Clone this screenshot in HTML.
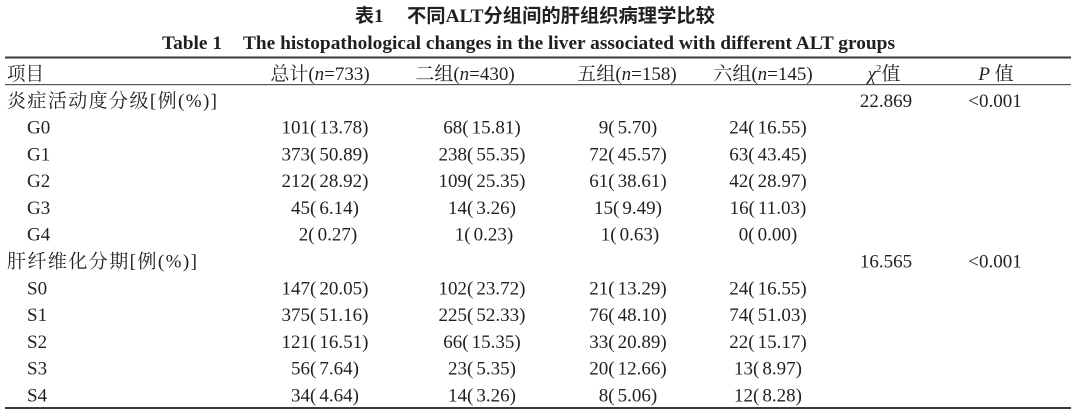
<!DOCTYPE html>
<html>
<head>
<meta charset="utf-8">
<style>
  html,body{margin:0;padding:0;background:#fff;}
  body{width:1080px;height:420px;overflow:hidden;}
  svg{display:block;}
  .t{font-family:"Liberation Serif","Noto Serif CJK SC",serif;font-size:19px;fill:#231f20;}
  .c{font-family:"Liberation Serif","Noto Serif CJK SC",serif;font-size:19px;fill:#231f20;}
  .h{font-family:"Liberation Sans","Noto Sans CJK SC",sans-serif;font-size:19px;font-weight:bold;fill:#231f20;}
  .b{font-family:"Liberation Serif",serif;font-size:19px;font-weight:bold;fill:#231f20;}
</style>
</head>
<body>
<svg width="1080" height="420" viewBox="0 0 1080 420" xmlns="http://www.w3.org/2000/svg">
  <!-- Titles -->
  <text class="h" x="355" y="22">表<tspan font-family="Liberation Serif" font-weight="bold">1</tspan></text>
  <text class="h" x="407" y="22" textLength="308" lengthAdjust="spacingAndGlyphs">不同<tspan font-family="Liberation Serif" font-weight="bold">ALT</tspan>分组间的肝组织病理学比较</text>
  <text class="b" x="162" y="49" textLength="60" lengthAdjust="spacingAndGlyphs">Table 1</text>
  <text class="b" x="243" y="49" textLength="652" lengthAdjust="spacingAndGlyphs">The histopathological changes in the liver associated with different ALT groups</text>

  <!-- Rules -->
  <rect x="5" y="56.5" width="1066" height="2" fill="#3a3a3a"/>
  <rect x="5" y="84" width="1066" height="1.2" fill="#555"/>
  <rect x="5" y="407" width="1066" height="2" fill="#3a3a3a"/>

  <!-- Header -->
  <text class="c" x="7" y="80" textLength="37" lengthAdjust="spacingAndGlyphs">项目</text>
  <text class="t" x="320" y="80" text-anchor="middle">总计(<tspan font-style="italic">n</tspan>=733)</text>
  <text class="t" x="465" y="80" text-anchor="middle">二组(<tspan font-style="italic">n</tspan>=430)</text>
  <text class="t" x="627" y="80" text-anchor="middle">五组(<tspan font-style="italic">n</tspan>=158)</text>
  <text class="t" x="763" y="80" text-anchor="middle">六组(<tspan font-style="italic">n</tspan>=145)</text>
  <text class="t" x="884" y="80" text-anchor="middle"><tspan font-style="italic">χ</tspan><tspan font-size="11" dy="-8">2</tspan><tspan dy="8">值</tspan></text>
  <text class="t" x="996" y="80" text-anchor="middle"><tspan font-style="italic">P</tspan> 值</text>

  <!-- Section 1 -->
  <text class="c" x="7" y="107" textLength="210" lengthAdjust="spacing">炎症活动度分级[例(%)]</text>
  <text class="t" x="886" y="107" text-anchor="middle">22.869</text>
  <text class="t" x="995" y="107" text-anchor="middle">&lt;0.001</text>

  <g class="t">
    <text x="27" y="133.5">G0</text>
    <text x="325" y="133.5" text-anchor="middle">101(<tspan dx="3">13.78)</tspan></text>
    <text x="482" y="133.5" text-anchor="middle">68(<tspan dx="3">15.81)</tspan></text>
    <text x="628" y="133.5" text-anchor="middle">9(<tspan dx="3">5.70)</tspan></text>
    <text x="768" y="133.5" text-anchor="middle">24(<tspan dx="3">16.55)</tspan></text>

    <text x="27" y="160.3">G1</text>
    <text x="325" y="160.3" text-anchor="middle">373(<tspan dx="3">50.89)</tspan></text>
    <text x="482" y="160.3" text-anchor="middle">238(<tspan dx="3">55.35)</tspan></text>
    <text x="628" y="160.3" text-anchor="middle">72(<tspan dx="3">45.57)</tspan></text>
    <text x="768" y="160.3" text-anchor="middle">63(<tspan dx="3">43.45)</tspan></text>

    <text x="27" y="187.1">G2</text>
    <text x="325" y="187.1" text-anchor="middle">212(<tspan dx="3">28.92)</tspan></text>
    <text x="482" y="187.1" text-anchor="middle">109(<tspan dx="3">25.35)</tspan></text>
    <text x="628" y="187.1" text-anchor="middle">61(<tspan dx="3">38.61)</tspan></text>
    <text x="768" y="187.1" text-anchor="middle">42(<tspan dx="3">28.97)</tspan></text>

    <text x="27" y="213.9">G3</text>
    <text x="325" y="213.9" text-anchor="middle">45(<tspan dx="3">6.14)</tspan></text>
    <text x="482" y="213.9" text-anchor="middle">14(<tspan dx="3">3.26)</tspan></text>
    <text x="628" y="213.9" text-anchor="middle">15(<tspan dx="3">9.49)</tspan></text>
    <text x="768" y="213.9" text-anchor="middle">16(<tspan dx="3">11.03)</tspan></text>

    <text x="27" y="240.7">G4</text>
    <text x="328" y="240.7" text-anchor="middle">2(<tspan dx="3">0.27)</tspan></text>
    <text x="484" y="240.7" text-anchor="middle">1(<tspan dx="3">0.23)</tspan></text>
    <text x="630" y="240.7" text-anchor="middle">1(<tspan dx="3">0.63)</tspan></text>
    <text x="768" y="240.7" text-anchor="middle">0(<tspan dx="3">0.00)</tspan></text>
  </g>

  <!-- Section 2 -->
  <text class="c" x="7" y="267.5" textLength="190" lengthAdjust="spacing">肝纤维化分期[例(%)]</text>
  <text class="t" x="886" y="267.5" text-anchor="middle">16.565</text>
  <text class="t" x="995" y="267.5" text-anchor="middle">&lt;0.001</text>

  <g class="t">
    <text x="27" y="294.3">S0</text>
    <text x="325" y="294.3" text-anchor="middle">147(<tspan dx="3">20.05)</tspan></text>
    <text x="482" y="294.3" text-anchor="middle">102(<tspan dx="3">23.72)</tspan></text>
    <text x="628" y="294.3" text-anchor="middle">21(<tspan dx="3">13.29)</tspan></text>
    <text x="768" y="294.3" text-anchor="middle">24(<tspan dx="3">16.55)</tspan></text>

    <text x="27" y="321.1">S1</text>
    <text x="325" y="321.1" text-anchor="middle">375(<tspan dx="3">51.16)</tspan></text>
    <text x="482" y="321.1" text-anchor="middle">225(<tspan dx="3">52.33)</tspan></text>
    <text x="628" y="321.1" text-anchor="middle">76(<tspan dx="3">48.10)</tspan></text>
    <text x="768" y="321.1" text-anchor="middle">74(<tspan dx="3">51.03)</tspan></text>

    <text x="27" y="347.9">S2</text>
    <text x="325" y="347.9" text-anchor="middle">121(<tspan dx="3">16.51)</tspan></text>
    <text x="482" y="347.9" text-anchor="middle">66(<tspan dx="3">15.35)</tspan></text>
    <text x="628" y="347.9" text-anchor="middle">33(<tspan dx="3">20.89)</tspan></text>
    <text x="768" y="347.9" text-anchor="middle">22(<tspan dx="3">15.17)</tspan></text>

    <text x="27" y="374.7">S3</text>
    <text x="325" y="374.7" text-anchor="middle">56(<tspan dx="3">7.64)</tspan></text>
    <text x="482" y="374.7" text-anchor="middle">23(<tspan dx="3">5.35)</tspan></text>
    <text x="628" y="374.7" text-anchor="middle">20(<tspan dx="3">12.66)</tspan></text>
    <text x="768" y="374.7" text-anchor="middle">13(<tspan dx="3">8.97)</tspan></text>

    <text x="27" y="401.5">S4</text>
    <text x="325" y="401.5" text-anchor="middle">34(<tspan dx="3">4.64)</tspan></text>
    <text x="482" y="401.5" text-anchor="middle">14(<tspan dx="3">3.26)</tspan></text>
    <text x="628" y="401.5" text-anchor="middle">8(<tspan dx="3">5.06)</tspan></text>
    <text x="768" y="401.5" text-anchor="middle">12(<tspan dx="3">8.28)</tspan></text>
  </g>
</svg>
</body>
</html>
